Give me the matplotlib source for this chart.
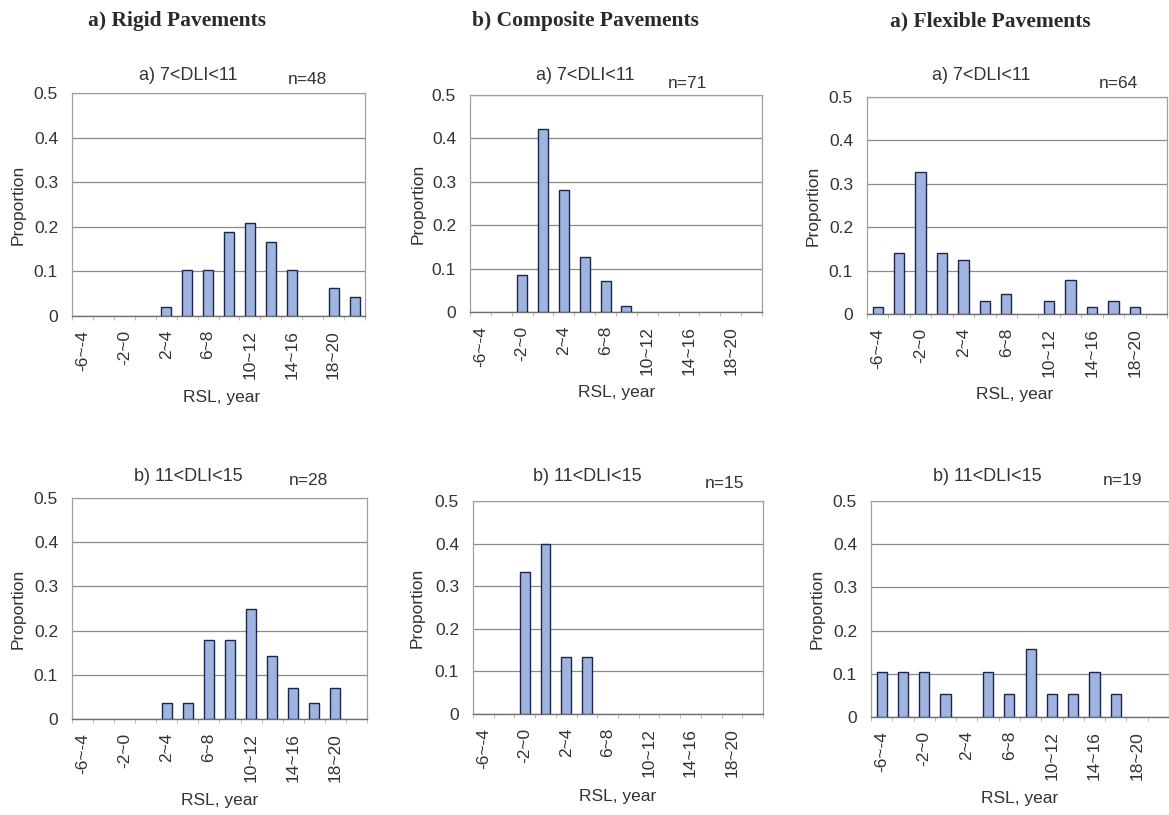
import matplotlib
matplotlib.use("Agg")
import matplotlib.pyplot as plt
import numpy as np

plt.rcParams['font.family'] = ['Liberation Sans', 'DejaVu Sans']

categories = ["-6~-4", "-4~-2", "-2~0", "0~2", "2~4", "4~6", "6~8", "8~10",
              "10~12", "12~14", "14~16", "16~18", "18~20", "20~22"]

rigid_a = [0, 0, 0, 0, 0.021, 0.104, 0.104, 0.1875, 0.208, 0.167, 0.104, 0, 0.0625, 0.042]
rigid_b = [0, 0, 0, 0, 0.036, 0.036, 0.179, 0.179, 0.25, 0.143, 0.071, 0.036, 0.071, 0]
composite_a = [0, 0, 0.0845, 0.4225, 0.282, 0.127, 0.0704, 0.014, 0, 0, 0, 0, 0, 0]
composite_b = [0, 0, 0.333, 0.4, 0.133, 0.133, 0, 0, 0, 0, 0, 0, 0, 0]
flexible_a = [0.0156, 0.14, 0.328, 0.14, 0.125, 0.031, 0.047, 0, 0.031, 0.078, 0.0156, 0.031, 0.0156, 0]
flexible_b = [0.105, 0.105, 0.105, 0.053, 0, 0.105, 0.053, 0.158, 0.053, 0.053, 0.105, 0.053, 0, 0]

col_headers = ["a) Rigid Pavements", "b) Composite Pavements", "a) Flexible Pavements"]
row_titles = ["a) 7<DLI<11", "b) 11<DLI<15"]
n_labels = [["n=48", "n=71", "n=64"], ["n=28", "n=15", "n=19"]]
data = [[rigid_a, composite_a, flexible_a], [rigid_b, composite_b, flexible_b]]

W, H = 1169, 815
fig = plt.figure(figsize=(W / 100, H / 100), dpi=100)

# axes boxes in pixels: left, top, right, bottom
boxes = [[(72, 93, 365, 316), (470, 95, 762, 312), (867, 97, 1167, 314)],
         [(72, 498, 367, 719), (473, 501, 763, 714), (871, 501, 1169, 717)]]
title_pos = [[(188, 75), (585, 75), (981, 75)], [(188, 477), (587, 477), (987, 477)]]
n_pos = [[(307, 80), (687, 83), (1118, 83)], [(308, 480), (725, 483), (1123, 480)]]
ylab_x = [[18, 418, 813], [18, 417, 817]]
xlab_pos = [[(222, 397), (617, 393), (1015, 395)], [(220, 800), (618, 797), (1020, 798)]]
header_pos = [(177, 21), (585, 21), (990, 21)]

bar_face = "#9fb4de"
bar_edge = "#1c2550"
grid_c = "#8a8a8a"
text_c = "#333333"
fs = 12.5

def fx(px):
    return px / W

def fy(py):
    return 1 - py / H

for i, h in enumerate(col_headers):
    fig.text(fx(header_pos[i][0]), fy(header_pos[i][1]), h, family="Liberation Serif",
             weight="bold", fontsize=15.5, ha="center", va="center", color="#2a2a2a")

x = np.arange(len(categories))
for r in range(2):
    for c in range(3):
        l, t, rr, b = boxes[r][c]
        ax = fig.add_axes([fx(l), fy(b), (rr - l) / W, (b - t) / H])
        vals = np.array(data[r][c], dtype=float)
        vals = np.where(vals > 0, vals, np.nan)
        ax.bar(x, vals, width=0.48, color=bar_face, edgecolor=bar_edge, linewidth=1.0, zorder=3)
        ax.set_xlim(-0.5, len(categories) - 0.5)
        ax.set_ylim(0, 0.5)
        ax.set_yticks([0, 0.1, 0.2, 0.3, 0.4, 0.5])
        ax.set_yticklabels(["0", "0.1", "0.2", "0.3", "0.4", "0.5"], fontsize=fs, color=text_c)
        ax.yaxis.grid(True, color=grid_c, linewidth=0.9, zorder=0)
        ax.tick_params(axis="y", length=0, pad=10)
        ax.set_xticks(x[::2])
        ax.set_xticklabels(categories[::2], rotation=90, fontsize=fs, color=text_c)
        ax.set_xticks(np.arange(len(categories) + 1) - 0.5, minor=True)
        ax.tick_params(axis="x", which="major", length=0, pad=10)
        ax.tick_params(axis="x", which="minor", length=3, color="#b0b0b0", direction="out")
        for s in ["left", "right", "top"]:
            ax.spines[s].set_color("#a0a0a0")
            ax.spines[s].set_linewidth(0.9)
        ax.spines["bottom"].set_color("#707070")
        ax.spines["bottom"].set_linewidth(1.0)
        fig.text(fx(ylab_x[r][c]), fy((t + b) / 2), "Proportion", rotation=90, fontsize=fs,
                 ha="center", va="center", color=text_c)
        fig.text(fx(xlab_pos[r][c][0]), fy(xlab_pos[r][c][1]), "RSL, year", fontsize=fs,
                 ha="center", va="center", color=text_c)
        fig.text(fx(title_pos[r][c][0]), fy(title_pos[r][c][1]), row_titles[r], fontsize=13,
                 ha="center", va="center", color=text_c)
        fig.text(fx(n_pos[r][c][0]), fy(n_pos[r][c][1]), n_labels[r][c], fontsize=fs,
                 ha="center", va="center", color=text_c)

fig.savefig("out.png", dpi=100, facecolor="white")
